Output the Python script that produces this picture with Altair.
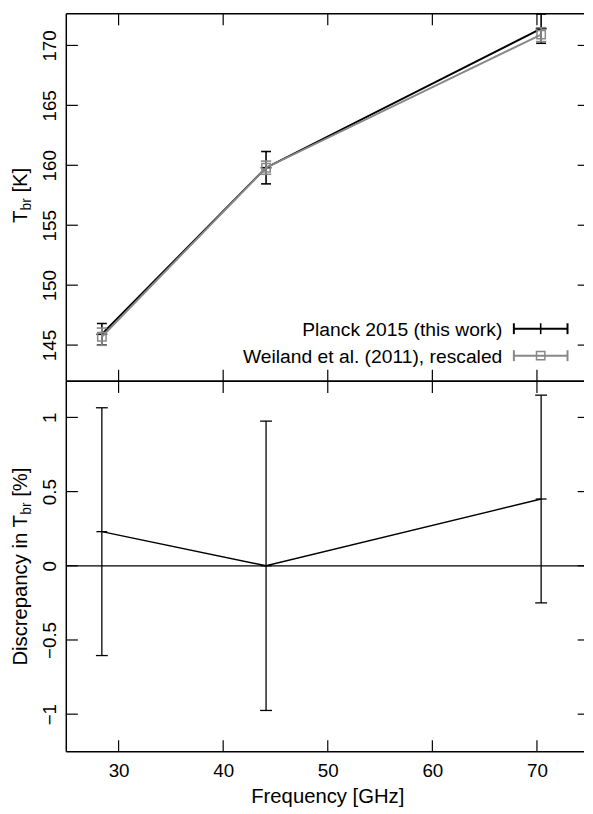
import altair as alt
import pandas as pd

# ---------------- data ----------------
freq = [28.4, 44.1, 70.4]
planck_T = [145.9, 159.8, 171.4]
planck_err = [0.9, 1.35, 1.22]
weiland_T = [145.7, 159.8, 170.9]
weiland_err = [0.72, 0.55, 0.58]
discrepancy = [0.23, 0.0, 0.45]
discrepancy_err = [0.835, 0.975, 0.70]
x_ticks = [30, 40, 50, 60, 70]
t_ticks = [145, 150, 155, 160, 165, 170]
d_ticks = [-1, -0.5, 0, 0.5, 1]
zero_line = [0]
legend_labels = ["Planck 2015 (this work)", "Weiland et al. (2011), rescaled"]
x_title = "Frequency [GHz]"
t_title = ["T", "br", "[K]"]
d_title = ["Discrepancy in T", "br", "[%]"]

# ---------------- layout / style ----------------
W = 524
H_TOP = 372
H_BOT = 375
X_DOMAIN = [25, 74.5]
T_DOMAIN = [141.975, 172.638]
D_DOMAIN = [-1.254, 1.243]
FONT = "Liberation Sans"
GRAY = "#888888"
TICK = 11.7
TICK_FS = 19
LEG_FS = 19.5
TITLE_FS = 20.5
SUB_FS = 14
LEFT_EXTENT = 58.7
TITLE_X = -39.9

ARIAL = {'T': .611, 'b': .556, 'r': .333, ' ': .278, '[': .278, 'K': .667, ']': .278,
         '%': .889, 'D': .722, 'i': .222, 's': .5, 'c': .5, 'e': .556, 'p': .556,
         'a': .556, 'n': .556, 'y': .5}


def tw(s, size):
    return sum(ARIAL.get(ch, .556) for ch in s) * size


xs = alt.Scale(domain=X_DOMAIN, nice=False, zero=False)
ts = alt.Scale(domain=T_DOMAIN, nice=False, zero=False)
ds = alt.Scale(domain=D_DOMAIN, nice=False, zero=False)

common_axis = dict(title=None, grid=False, domain=False, ticks=False, tickSize=0,
                   labelFont=FONT, labelFontSize=TICK_FS, labelColor="black",
                   labelOverlap=False, labelFlush=False)
y_axis_top = alt.Axis(values=t_ticks, format="d", labelAngle=270, labelAlign="center",
                      labelBaseline="alphabetic", labelPadding=10.5, **common_axis)
y_axis_bot = alt.Axis(values=d_ticks, format="~r", labelAngle=270, labelAlign="center",
                      labelBaseline="alphabetic", labelPadding=10.5, **common_axis)
x_axis_bot = alt.Axis(values=x_ticks, format="d", labelAngle=0, labelAlign="center",
                      labelBaseline="top", labelPadding=10.3, **common_axis)


def XT(f):
    return alt.X(f, type="quantitative", scale=xs, axis=None, title=None)


def XB(f):
    return alt.X(f, type="quantitative", scale=xs, axis=x_axis_bot, title=None)


def YT(f):
    return alt.Y(f, type="quantitative", scale=ts, axis=y_axis_top, title=None)


def YB(f):
    return alt.Y(f, type="quantitative", scale=ds, axis=y_axis_bot, title=None)


ONE = alt.Data(values=[{}])


def rule(x=None, x2=None, y=None, y2=None, color="black", sw=1.2, opacity=1):
    enc = {}
    if x is not None:
        enc["x"] = alt.value(x)
    if x2 is not None:
        enc["x2"] = alt.value(x2)
    if y is not None:
        enc["y"] = alt.value(y)
    if y2 is not None:
        enc["y2"] = alt.value(y2)
    return alt.Chart(ONE).mark_rule(color=color, strokeWidth=sw, opacity=opacity).encode(**enc)


def text(s, x, y, size, angle=0, align="left", baseline="alphabetic"):
    kw = dict(text=s, fontSize=size, font=FONT, align=align, baseline=baseline, color="black")
    if angle:
        kw["angle"] = angle
    return alt.Chart(ONE).mark_text(**kw).encode(x=alt.value(x), y=alt.value(y))


def vtitle(parts, center_y, x_base, sub_shift=4.5):
    sizes = [TITLE_FS, SUB_FS, TITLE_FS]
    widths = [tw(parts[0], TITLE_FS), tw(parts[1], SUB_FS), tw(parts[2], TITLE_FS)]
    gap = tw(" ", TITLE_FS)
    total = sum(widths) + gap
    y = center_y + total / 2
    out = []
    for k in range(3):
        xb = x_base + (sub_shift if k == 1 else 0)
        out.append(text(parts[k], xb, y, sizes[k], angle=270, align="left"))
        y -= widths[k]
        if k == 1:
            y -= gap
    return out


def series(df, X, Y, color, sw_line, sw_err, cap):
    base = alt.Chart(df)
    return [
        base.mark_line(color=color, strokeWidth=sw_line).encode(x=X("x"), y=Y("y")),
        base.mark_rule(color=color, strokeWidth=sw_err).encode(x=X("x"), y=Y("lo"), y2="hi"),
        base.transform_fold(["lo", "hi"], as_=["k", "v"]).mark_tick(
            orient="horizontal", size=cap, thickness=sw_err, color=color, opacity=1
        ).encode(x=X("x"), y=Y("v")),
    ]


def frame(X, Y, yticks_df, H):
    xt = pd.DataFrame({"x": x_ticks})
    return [
        alt.Chart(xt).mark_rule(color="black", strokeWidth=1.2).encode(
            x=X("x"), y=alt.value(0), y2=alt.value(TICK)),
        alt.Chart(xt).mark_rule(color="black", strokeWidth=1.2).encode(
            x=X("x"), y=alt.value(H), y2=alt.value(H - TICK)),
        alt.Chart(yticks_df).mark_rule(color="black", strokeWidth=1.2).encode(
            y=Y("y"), x=alt.value(0), x2=alt.value(TICK)),
        alt.Chart(yticks_df).mark_rule(color="black", strokeWidth=1.2).encode(
            y=Y("y"), x=alt.value(W - 6.4), x2=alt.value(W)),
        rule(x=0, y=0, y2=H, sw=1.5),
        rule(x=0, x2=W, y=0, sw=1.5),
        rule(x=0, x2=W, y=H, sw=1.5),
        rule(x=-LEFT_EXTENT, y=0, y2=1, sw=0.01, opacity=0),
    ]


def make_df(vals, errs):
    df = pd.DataFrame({"x": freq, "y": vals, "err": errs})
    df["lo"] = df["y"] - df["err"]
    df["hi"] = df["y"] + df["err"]
    return df


planck = make_df(planck_T, planck_err)
weiland = make_df(weiland_T, weiland_err)
disc = make_df(discrepancy, discrepancy_err)

# ---------------- top panel ----------------
top_layers = []
top_layers += frame(XT, YT, pd.DataFrame({"y": t_ticks}), H_TOP)
top_layers += series(planck, XT, YT, "black", 2, 1.6, 10)
top_layers.append(alt.Chart(planck).mark_tick(orient="horizontal", size=11, thickness=1.6,
                                                color="black", opacity=1).encode(x=XT("x"), y=YT("y")))
top_layers += series(weiland, XT, YT, GRAY, 2, 1.6, 10.5)
top_layers.append(alt.Chart(weiland).mark_point(shape="square", filled=False, size=72, strokeWidth=1.5,
                                                 color=GRAY, opacity=1).encode(x=XT("x"), y=YT("y")))

# legend (drawn by hand: gnuplot style error-bar samples)
LX_TEXT, LX0, LX1 = 441.3, 453.0, 507.3
LXC = (LX0 + LX1) / 2
for row, (lab, color) in enumerate(zip(legend_labels, ["black", GRAY])):
    ly = 318.7 + row * 27.3
    top_layers.append(text(lab, LX_TEXT, ly + 7.3, LEG_FS, align="right"))
    top_layers.append(rule(x=LX0, x2=LX1, y=ly, color=color, sw=2))
    top_layers.append(rule(x=LX0, y=ly - 5.5, y2=ly + 5.5, color=color, sw=2))
    top_layers.append(rule(x=LX1, y=ly - 5.5, y2=ly + 5.5, color=color, sw=2))
    if row == 0:
        top_layers.append(rule(x=LXC, y=ly - 5.5, y2=ly + 5.5, color=color, sw=1.6))
    else:
        top_layers.append(alt.Chart(ONE).mark_point(shape="square", filled=False, size=72,
                                                    strokeWidth=1.5, color=GRAY, opacity=1)
                          .encode(x=alt.value(LXC), y=alt.value(ly)))

top_layers += vtitle(t_title, 183.75, TITLE_X)

top = alt.layer(*top_layers).properties(width=W, height=H_TOP)

# ---------------- bottom panel ----------------
bot_layers = []
bot_layers.append(alt.Chart(pd.DataFrame({"y": zero_line})).mark_rule(color="black", strokeWidth=1.3)
                  .encode(y=YB("y")))
bot_layers += frame(XB, YB, pd.DataFrame({"y": d_ticks}), H_BOT)
bot_layers += series(disc, XB, YB, "black", 1.4, 1.3, 12)
bot_layers.append(alt.Chart(disc).mark_tick(orient="horizontal", size=11, thickness=1.3,
                                             color="black", opacity=1).encode(x=XB("x"), y=YB("y")))
bot_layers += vtitle(d_title, 187.5, TITLE_X)
bot_layers.append(text(x_title, 264.65, H_BOT + 52, TITLE_FS, align="center"))

bottom = alt.layer(*bot_layers).properties(width=W, height=H_BOT)

chart = alt.vconcat(top, bottom, spacing=0, bounds="flush").properties(
    padding={"left": 0, "top": 0, "right": 0, "bottom": 0}
).configure_view(stroke=None)

chart.save("out.html", embed_options={"renderer": "svg", "actions": False})
